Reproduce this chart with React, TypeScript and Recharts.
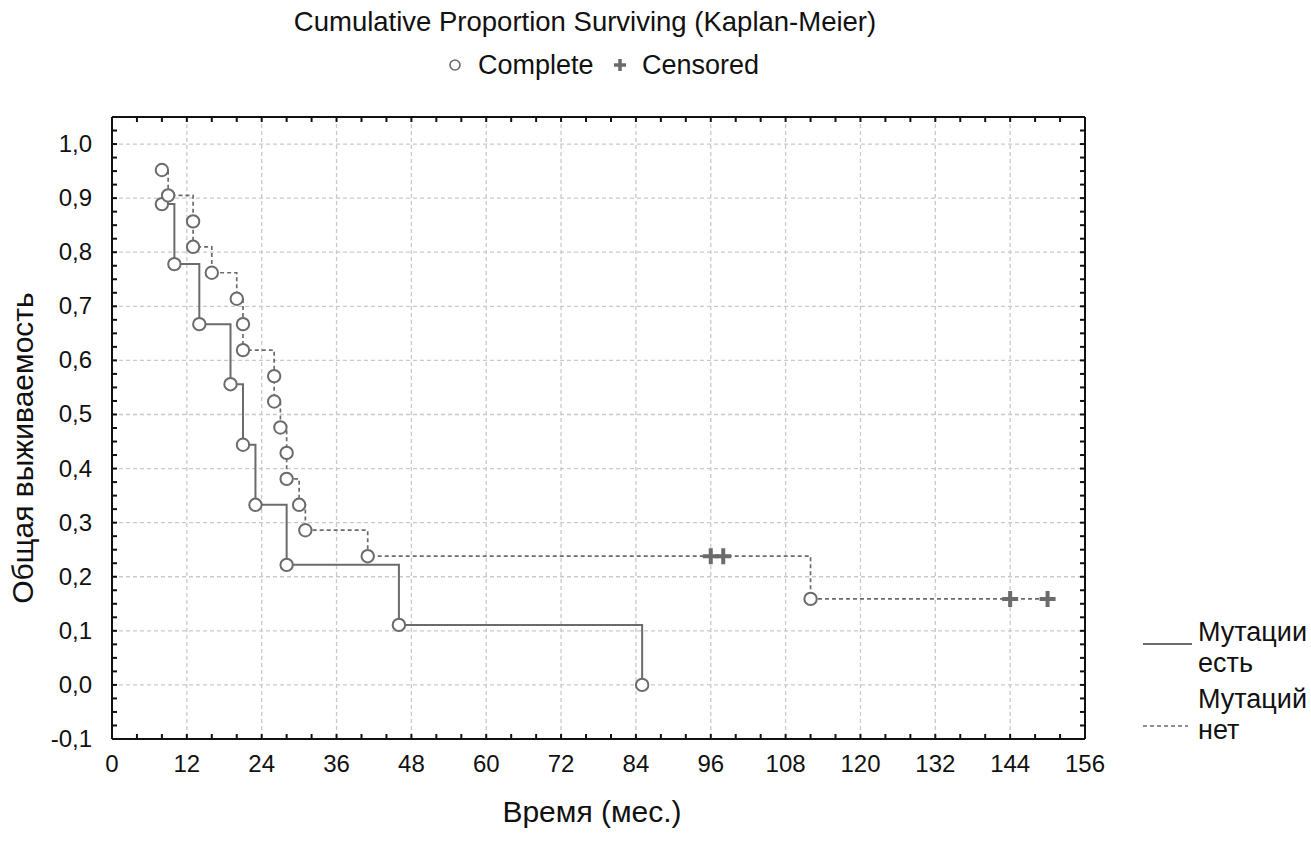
import React from 'react';
import { ComposedChart, Line, XAxis, YAxis, CartesianGrid } from 'recharts';

// ---- data ----
const withMutTimes = [8, 10, 14, 19, 21, 23, 28, 46, 85];
const withMutSurv = [0.889, 0.778, 0.667, 0.556, 0.444, 0.333, 0.222, 0.111, 0.0];

const noMutTimes = [8, 9, 13, 13, 16, 20, 21, 21, 26, 26, 27, 28, 28, 30, 31, 41, 112];
const noMutSurv = [0.952, 0.905, 0.857, 0.81, 0.762, 0.714, 0.667, 0.619, 0.571, 0.524, 0.476, 0.429, 0.381, 0.333, 0.286, 0.238, 0.159];
const noMutCensorTimes = [96, 98, 144, 150];
const noMutCensorSurv = [0.238, 0.238, 0.159, 0.159];

const xMajorTicks = [0, 12, 24, 36, 48, 60, 72, 84, 96, 108, 120, 132, 144, 156];
const xMinorTicks = Array.from({ length: 40 }, (_, i) => i * 4);
const yMajorTicks = [-0.1, 0, 0.1, 0.2, 0.3, 0.4, 0.5, 0.6, 0.7, 0.8, 0.9, 1.0];
const yTickLabels = ['-0,1', '0,0', '0,1', '0,2', '0,3', '0,4', '0,5', '0,6', '0,7', '0,8', '0,9', '1,0'];
const yMinorTicks = Array.from({ length: 47 }, (_, i) => Math.round((-0.1 + i * 0.025) * 1000) / 1000);

type Pt = { t: number; s: number; kind: 'event' | 'censor' };
const build = (et: number[], es: number[], ct: number[] = [], cs: number[] = []): Pt[] => {
  const pts: Pt[] = et.map((t, i) => ({ t, s: es[i], kind: 'event' as const }));
  ct.forEach((t, i) => pts.push({ t, s: cs[i], kind: 'censor' }));
  return pts.sort((a, b) => a.t - b.t || b.s - a.s);
};
const withMutData = build(withMutTimes, withMutSurv);
const noMutData = build(noMutTimes, noMutSurv, noMutCensorTimes, noMutCensorSurv);

const GRAY = '#6b6b6b';
const FONT = '"Liberation Sans", Arial, sans-serif';
const TEXT = '#111';

const renderDot = (props: any) => {
  const { cx, cy, payload, index } = props;
  if (cx == null || cy == null) return <g key={`n${index}`} />;
  if (payload.kind === 'event') {
    return <circle key={`e${index}`} cx={cx} cy={cy} r={6.2} fill="#fff" stroke={GRAY} strokeWidth={2} />;
  }
  return (
    <path key={`c${index}`} d={`M${cx - 8},${cy}H${cx + 8}M${cx},${cy - 8}V${cy + 8}`} stroke={GRAY} strokeWidth={4} fill="none" />
  );
};

const isMajorX = (v: number) => v % 12 === 0;
const majorYIndex = (v: number) => yMajorTicks.findIndex((m) => Math.abs(m - v) < 1e-6);

const BottomTick = (props: any) => {
  const { x, y, payload } = props;
  const v = payload.value;
  return (
    <g>
      <line x1={x} x2={x} y1={y} y2={y - 5} stroke="#111" strokeWidth={2} />
      {isMajorX(v) && (
        <text x={x} y={y + 33} textAnchor="middle" fontSize={24} fontFamily={FONT} fill={TEXT}>
          {String(v)}
        </text>
      )}
    </g>
  );
};
const TopTick = (props: any) => {
  const { x, y } = props;
  return <line x1={x} x2={x} y1={y} y2={y + 5} stroke="#111" strokeWidth={2} />;
};
const LeftTick = (props: any) => {
  const { x, y, payload } = props;
  const idx = majorYIndex(payload.value);
  return (
    <g>
      <line x1={x} x2={x + 5} y1={y} y2={y} stroke="#111" strokeWidth={2} />
      {idx >= 0 && (
        <text x={x - 20} y={y + 8} textAnchor="end" fontSize={24} fontFamily={FONT} fill={TEXT}>
          {yTickLabels[idx]}
        </text>
      )}
    </g>
  );
};
const RightTick = (props: any) => {
  const { x, y } = props;
  return <line x1={x} x2={x - 5} y1={y} y2={y} stroke="#111" strokeWidth={2} />;
};

const abs = (left: number, top: number, extra: React.CSSProperties = {}): React.CSSProperties => ({
  position: 'absolute',
  left,
  top,
  fontFamily: FONT,
  color: TEXT,
  whiteSpace: 'nowrap',
  lineHeight: 1,
  ...extra,
});

export default function App() {
  return (
    <div style={{ position: 'absolute', left: 0, top: 0, width: 1311, height: 841, background: '#fff' }}>
      <ComposedChart
        width={1311}
        height={841}
        margin={{ top: 97, right: 206, bottom: 62, left: 52 }}
      >
        <CartesianGrid
          xAxisId="bottom"
          yAxisId="left"
          horizontalValues={yMajorTicks}
          verticalValues={xMajorTicks}
          stroke="#c9c9c9"
          strokeDasharray="4 3"
          strokeWidth={1.3}
        />
        <XAxis
          xAxisId="bottom"
          dataKey="t"
          type="number"
          domain={[0, 156]}
          ticks={xMinorTicks}
          interval={0}
          allowDataOverflow
          height={40}
          tickSize={0}
          tickMargin={0}
          tickLine={false}
          tick={<BottomTick />}
          axisLine={{ stroke: '#111', strokeWidth: 2 }}
        />
        <XAxis
          xAxisId="top"
          orientation="top"
          dataKey="t"
          type="number"
          domain={[0, 156]}
          ticks={xMinorTicks}
          interval={0}
          allowDataOverflow
          height={20}
          tickSize={0}
          tickMargin={0}
          tickLine={false}
          tick={<TopTick />}
          axisLine={{ stroke: '#111', strokeWidth: 2 }}
        />
        <YAxis
          yAxisId="left"
          type="number"
          domain={[-0.1, 1.05]}
          ticks={yMinorTicks}
          interval={0}
          allowDataOverflow
          width={60}
          tickSize={0}
          tickMargin={0}
          tickLine={false}
          tick={<LeftTick />}
          axisLine={{ stroke: '#111', strokeWidth: 2 }}
        />
        <YAxis
          yAxisId="right"
          orientation="right"
          type="number"
          domain={[-0.1, 1.05]}
          ticks={yMinorTicks}
          interval={0}
          allowDataOverflow
          width={20}
          tickSize={0}
          tickMargin={0}
          tickLine={false}
          tick={<RightTick />}
          axisLine={{ stroke: '#111', strokeWidth: 2 }}
        />
        <Line
          xAxisId="top"
          yAxisId="right"
          data={noMutData}
          dataKey="s"
          stroke="none"
          dot={false}
          activeDot={false}
          isAnimationActive={false}
          legendType="none"
        />
        <Line
          xAxisId="bottom"
          yAxisId="left"
          data={withMutData}
          dataKey="s"
          type="stepAfter"
          stroke={GRAY}
          strokeWidth={2}
          dot={renderDot}
          activeDot={false}
          isAnimationActive={false}
        />
        <Line
          xAxisId="bottom"
          yAxisId="left"
          data={noMutData}
          dataKey="s"
          type="stepAfter"
          stroke={GRAY}
          strokeWidth={1.7}
          strokeDasharray="4 3"
          dot={renderDot}
          activeDot={false}
          isAnimationActive={false}
        />
      </ComposedChart>

      {/* Title & top legend */}
      <div style={abs(585, 22, { fontSize: 27.5, transform: 'translate(-50%, -50%)' })}>
        Cumulative Proportion Surviving (Kaplan-Meier)
      </div>
      <svg style={{ position: 'absolute', left: 440, top: 52 }} width={200} height={28}>
        <circle cx={15} cy={13} r={5} fill="#fff" stroke={GRAY} strokeWidth={1.6} />
        <path d="M174,13H186M180,7V19" stroke={GRAY} strokeWidth={3.5} />
      </svg>
      <div style={abs(478, 65, { fontSize: 27, transform: 'translateY(-50%)' })}>Complete</div>
      <div style={abs(642, 65, { fontSize: 27, transform: 'translateY(-50%)' })}>Censored</div>

      {/* Axis titles */}
      <div
        style={abs(23, 448, {
          fontSize: 30,
          transform: 'translate(-50%, -50%) rotate(-90deg)',
        })}
      >
        Общая выживаемость
      </div>
      <div style={abs(592, 812, { fontSize: 30, transform: 'translate(-50%, -50%)' })}>Время (мес.)</div>

      {/* Right legend */}
      <svg style={{ position: 'absolute', left: 1140, top: 630 }} width={60} height={110}>
        <line x1={3} x2={52} y1={14} y2={14} stroke={GRAY} strokeWidth={2} />
        <line x1={3} x2={48} y1={96} y2={96} stroke={GRAY} strokeWidth={1.7} strokeDasharray="4 3" />
      </svg>
      <div style={abs(1198, 617, { fontSize: 27, lineHeight: '31px' })}>
        Мутации
        <br />
        есть
      </div>
      <div style={abs(1198, 684, { fontSize: 27, lineHeight: '31px' })}>
        Мутаций
        <br />
        нет
      </div>
    </div>
  );
}
